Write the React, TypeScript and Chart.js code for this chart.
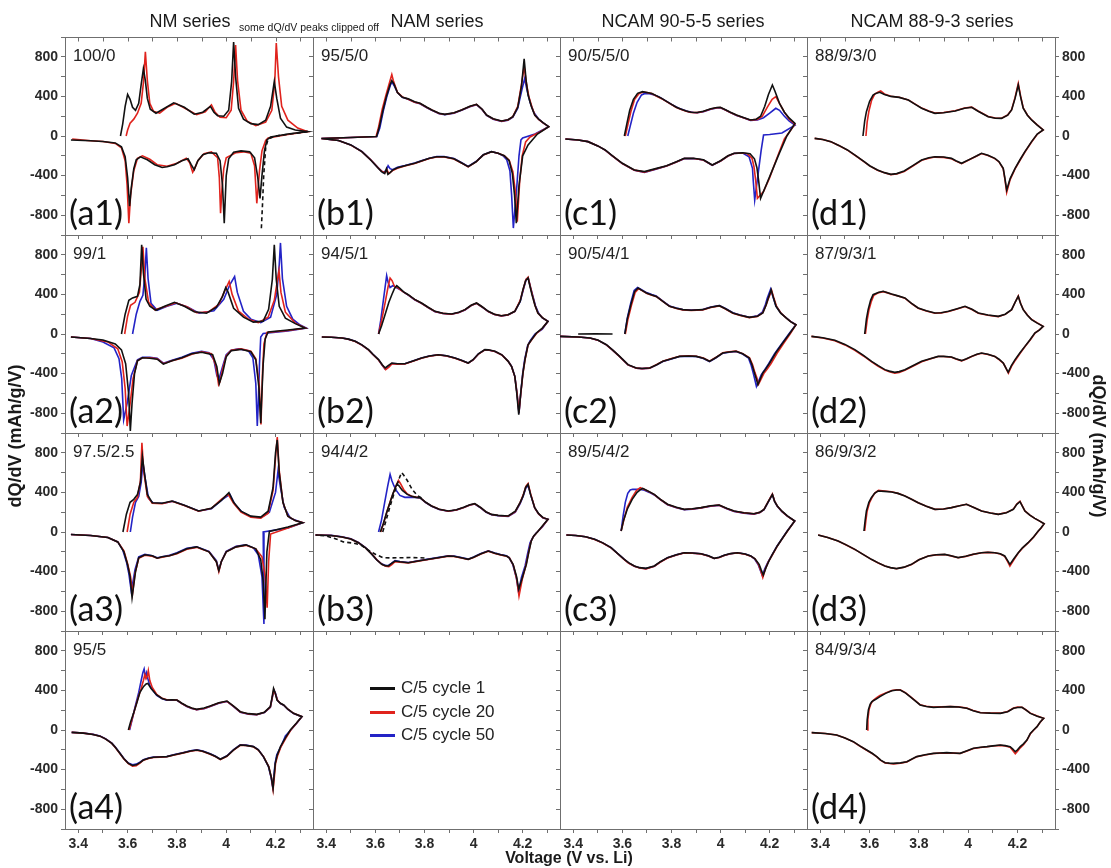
import React, { useEffect, useRef } from 'react';
import { Chart, registerables } from 'chart.js';

Chart.register(...registerables);

type Pt = [number, number];

// ---------- column / sample labels ----------
const columnTitles = ['NM series', 'NAM series', 'NCAM 90-5-5 series', 'NCAM 88-9-3 series'];
const clipNote = 'some dQ/dV peaks clipped off';
const legendLabels = ['C/5 cycle 1', 'C/5 cycle 20', 'C/5 cycle 50'];
const xTickLabels = [3.4, 3.6, 3.8, 4, 4.2];
const yTickLabels = [800, 400, 0, -400, -800];

// ---------- data: [voltage, dQ/dV] ----------
const a1Cyc1: Pt[] = [[3.571,0],[3.58,120],[3.59,300],[3.6,420],[3.61,370],[3.62,290],[3.632,260],[3.645,330],[3.655,520],[3.664,680],[3.672,560],[3.68,380],[3.692,270],[3.715,230],[3.75,280],[3.787,335],[3.83,290],[3.87,220],[3.905,240],[3.925,280],[3.936,300],[3.95,240],[3.965,205],[3.99,200],[4.01,260],[4.022,550],[4.03,950],[4.038,600],[4.05,280],[4.07,170],[4.1,125],[4.13,115],[4.16,160],[4.18,300],[4.195,550],[4.205,380],[4.22,180],[4.245,90],[4.28,60],[4.33,44],
[4.25,20],[4.18,-10],[4.165,-40],[4.155,-150],[4.145,-400],[4.137,-630],[4.128,-420],[4.115,-220],[4.095,-160],[4.06,-150],[4.03,-165],[4.01,-230],[4.0,-400],[3.992,-880],[3.985,-500],[3.975,-250],[3.96,-175],[3.93,-170],[3.905,-190],[3.885,-250],[3.87,-340],[3.858,-290],[3.845,-230],[3.82,-250],[3.79,-290],[3.76,-310],[3.74,-318],[3.71,-290],[3.68,-240],[3.652,-210],[3.635,-240],[3.625,-330],[3.615,-520],[3.608,-710],[3.6,-420],[3.59,-210],[3.575,-110],[3.55,-70],[3.5,-55],[3.45,-48],[3.37,-40]];
const a1Cyc1Dash: Pt[] = [[4.33,44],[4.2,0],[4.17,-30],[4.16,-120],[4.152,-400],[4.147,-700],[4.142,-960]];
const a1Cyc20: Pt[] = [[3.594,0],[3.6,60],[3.61,130],[3.625,170],[3.64,230],[3.655,330],[3.665,560],[3.672,850],[3.68,560],[3.69,330],[3.705,250],[3.73,230],[3.76,290],[3.795,330],[3.84,270],[3.88,215],[3.915,245],[3.94,315],[3.955,240],[3.975,190],[4.0,185],[4.02,260],[4.03,550],[4.038,920],[4.046,560],[4.06,260],[4.085,150],[4.12,105],[4.16,140],[4.185,260],[4.197,550],[4.203,940],[4.212,600],[4.225,300],[4.25,160],[4.29,80],[4.33,44],
[4.25,15],[4.17,-20],[4.16,-45],[4.145,-150],[4.135,-350],[4.124,-680],[4.115,-300],[4.1,-175],[4.07,-160],[4.04,-168],[4.0,-220],[3.99,-330],[3.982,-560],[3.977,-780],[3.972,-420],[3.965,-220],[3.94,-160],[3.91,-180],[3.885,-250],[3.872,-330],[3.864,-365],[3.852,-270],[3.838,-225],[3.8,-275],[3.76,-305],[3.72,-290],[3.69,-235],[3.66,-200],[3.64,-225],[3.625,-350],[3.612,-600],[3.605,-880],[3.598,-500],[3.59,-250],[3.575,-120],[3.55,-75],[3.5,-55],[3.45,-48],[3.375,-30]];

const a2Cyc1: Pt[] = [[3.575,0],[3.59,200],[3.605,340],[3.62,365],[3.64,380],[3.65,500],[3.657,900],[3.664,620],[3.675,350],[3.69,280],[3.715,240],[3.75,280],[3.79,320],[3.83,280],[3.87,225],[3.92,210],[3.96,270],[3.985,380],[3.998,470],[4.008,420],[4.03,260],[4.07,170],[4.11,120],[4.15,130],[4.172,250],[4.187,550],[4.195,900],[4.203,550],[4.215,280],[4.24,160],[4.28,105],[4.32,60],
[4.25,40],[4.17,20],[4.158,-50],[4.15,-300],[4.143,-700],[4.14,-900],[4.133,-550],[4.12,-260],[4.1,-180],[4.06,-155],[4.02,-170],[4.0,-230],[3.985,-400],[3.972,-500],[3.962,-330],[3.945,-210],[3.9,-185],[3.86,-200],[3.82,-240],[3.78,-270],[3.745,-305],[3.72,-255],[3.69,-245],[3.66,-240],[3.64,-270],[3.628,-400],[3.618,-700],[3.611,-980],[3.604,-600],[3.592,-300],[3.575,-160],[3.55,-100],[3.5,-60],[3.45,-45],[3.37,-30]];
const a2Cyc20: Pt[] = [[3.588,0],[3.6,180],[3.612,290],[3.63,320],[3.648,420],[3.657,700],[3.662,880],[3.67,560],[3.685,320],[3.71,245],[3.75,275],[3.795,315],[3.84,275],[3.88,215],[3.93,225],[3.97,300],[3.995,440],[4.012,530],[4.024,400],[4.05,230],[4.09,150],[4.13,115],[4.17,170],[4.195,340],[4.208,550],[4.214,640],[4.222,420],[4.24,220],[4.28,110],[4.322,60],
[4.25,35],[4.165,15],[4.153,-100],[4.147,-400],[4.141,-915],[4.134,-520],[4.12,-250],[4.1,-175],[4.06,-150],[4.02,-165],[4.0,-220],[3.985,-360],[3.975,-480],[3.969,-510],[3.958,-320],[3.94,-200],[3.9,-180],[3.86,-205],[3.82,-245],[3.78,-270],[3.745,-300],[3.72,-250],[3.69,-240],[3.66,-240],[3.64,-270],[3.622,-450],[3.608,-750],[3.598,-930],[3.59,-550],[3.578,-280],[3.56,-150],[3.52,-80],[3.45,-45],[3.37,-30]];
const a2Cyc50: Pt[] = [[3.62,0],[3.635,200],[3.65,330],[3.662,390],[3.67,600],[3.676,870],[3.683,560],[3.695,310],[3.72,240],[3.76,280],[3.8,310],[3.845,270],[3.89,210],[3.95,235],[3.99,350],[4.015,500],[4.034,580],[4.045,420],[4.07,230],[4.1,150],[4.14,115],[4.18,170],[4.205,400],[4.215,700],[4.22,920],[4.228,560],[4.245,280],[4.27,150],[4.3,90],[4.325,60],
[4.25,30],[4.15,5],[4.14,-30],[4.135,-300],[4.13,-700],[4.126,-930],[4.12,-500],[4.108,-240],[4.09,-170],[4.05,-150],[4.02,-165],[4.0,-210],[3.985,-330],[3.97,-460],[3.962,-420],[3.95,-260],[3.93,-190],[3.9,-175],[3.86,-195],[3.82,-235],[3.78,-265],[3.745,-295],[3.72,-245],[3.69,-235],[3.66,-235],[3.64,-260],[3.615,-420],[3.598,-700],[3.584,-865],[3.576,-450],[3.565,-250],[3.545,-140],[3.5,-80],[3.45,-45],[3.37,-30]];

const a3Cyc1: Pt[] = [[3.581,0],[3.595,180],[3.61,300],[3.625,330],[3.64,380],[3.652,500],[3.66,760],[3.668,600],[3.68,380],[3.7,296],[3.74,290],[3.78,313],[3.83,270],[3.888,212],[3.94,240],[3.98,320],[4.011,397],[4.03,300],[4.06,210],[4.1,160],[4.14,150],[4.17,210],[4.19,450],[4.2,800],[4.207,930],[4.215,600],[4.23,300],[4.25,160],[4.28,115],[4.31,94],
[4.25,50],[4.175,5],[4.165,-200],[4.16,-600],[4.157,-880],[4.15,-500],[4.14,-280],[4.12,-170],[4.08,-130],[4.04,-150],[4.0,-200],[3.98,-300],[3.97,-390],[3.96,-300],[3.93,-200],[3.88,-150],[3.84,-170],[3.8,-215],[3.77,-240],[3.74,-250],[3.72,-265],[3.7,-240],[3.67,-230],[3.645,-260],[3.632,-400],[3.618,-663],[3.61,-450],[3.6,-330],[3.585,-200],[3.56,-100],[3.52,-55],[3.45,-35],[3.37,-25]];
const a3Cyc20: Pt[] = [[3.598,0],[3.61,180],[3.625,300],[3.64,350],[3.652,520],[3.658,900],[3.665,620],[3.68,360],[3.7,290],[3.74,285],[3.78,310],[3.83,268],[3.888,210],[3.94,240],[3.98,330],[4.008,380],[4.03,290],[4.06,200],[4.1,150],[4.14,140],[4.17,190],[4.19,420],[4.2,750],[4.207,960],[4.215,620],[4.23,300],[4.25,160],[4.28,115],[4.31,94],
[4.25,40],[4.18,-20],[4.172,-300],[4.166,-765],[4.158,-450],[4.145,-250],[4.12,-170],[4.08,-135],[4.04,-150],[4.0,-200],[3.98,-300],[3.97,-400],[3.96,-300],[3.93,-200],[3.88,-155],[3.84,-175],[3.8,-220],[3.77,-240],[3.74,-255],[3.72,-265],[3.7,-245],[3.67,-235],[3.645,-265],[3.63,-420],[3.62,-620],[3.612,-450],[3.6,-320],[3.585,-190],[3.56,-100],[3.52,-55],[3.45,-35],[3.37,-25]];
const a3Cyc50: Pt[] = [[3.611,0],[3.62,150],[3.632,300],[3.645,360],[3.655,500],[3.662,700],[3.67,560],[3.685,340],[3.705,290],[3.745,290],[3.785,310],[3.835,265],[3.888,212],[3.94,235],[3.985,330],[4.015,380],[4.035,280],[4.065,200],[4.1,155],[4.14,145],[4.175,200],[4.2,400],[4.21,616],[4.22,450],[4.235,250],[4.26,140],[4.29,110],[4.31,94],
[4.25,40],[4.15,0],[4.153,-300],[4.153,-930],[4.145,-450],[4.13,-230],[4.11,-160],[4.08,-130],[4.04,-145],[4.0,-195],[3.98,-300],[3.97,-385],[3.96,-290],[3.93,-195],[3.88,-150],[3.84,-165],[3.8,-210],[3.77,-235],[3.74,-250],[3.72,-260],[3.7,-240],[3.67,-225],[3.645,-250],[3.63,-380],[3.615,-600],[3.605,-420],[3.595,-300],[3.58,-180],[3.56,-100],[3.52,-55],[3.45,-35],[3.37,-25]];

const a4Cyc1: Pt[] = [[3.603,0],[3.612,80],[3.624,168],[3.638,280],[3.65,380],[3.665,440],[3.675,465],[3.682,471],[3.695,420],[3.718,354],[3.74,318],[3.759,303],[3.78,305],[3.8,303],[3.82,270],[3.84,242],[3.86,222],[3.88,209],[3.91,222],[3.935,242],[3.97,275],[4.003,293],[4.03,240],[4.057,185],[4.09,165],[4.124,158],[4.155,180],[4.179,236],[4.186,330],[4.192,421],[4.198,380],[4.206,303],[4.22,270],[4.233,253],[4.25,210],[4.273,168],[4.307,135],
[4.285,70],[4.26,0],[4.24,-80],[4.22,-168],[4.206,-260],[4.199,-337],[4.194,-470],[4.19,-589],[4.183,-480],[4.172,-370],[4.151,-269],[4.13,-200],[4.11,-168],[4.08,-155],[4.057,-152],[4.03,-200],[4.003,-263],[3.976,-296],[3.955,-265],[3.935,-242],[3.905,-215],[3.881,-202],[3.855,-212],[3.827,-229],[3.79,-250],[3.759,-269],[3.73,-272],[3.705,-276],[3.685,-285],[3.664,-303],[3.65,-330],[3.635,-352],[3.62,-358],[3.603,-337],[3.585,-290],[3.57,-240],[3.55,-175],[3.536,-135],[3.51,-90],[3.488,-62],[3.46,-45],[3.42,-32],[3.373,-24]];
const a4Cyc20: Pt[] = [[3.606,0],[3.616,90],[3.628,200],[3.642,320],[3.655,420],[3.664,500],[3.67,560],[3.675,520],[3.68,545],[3.684,600],[3.69,500],[3.7,430],[3.718,360],[3.74,320],[3.759,305],[3.78,306],[3.8,302],[3.82,268],[3.84,240],[3.86,220],[3.88,206],[3.91,218],[3.935,240],[3.97,272],[4.003,290],[4.03,238],[4.057,182],[4.09,162],[4.124,155],[4.155,178],[4.179,232],[4.186,320],[4.193,405],[4.2,360],[4.208,300],[4.22,268],[4.233,252],[4.25,210],[4.273,168],[4.307,135],
[4.285,68],[4.262,0],[4.242,-82],[4.222,-170],[4.208,-262],[4.2,-340],[4.195,-480],[4.19,-600],[4.184,-490],[4.173,-372],[4.152,-271],[4.13,-202],[4.11,-170],[4.08,-157],[4.057,-154],[4.03,-202],[4.003,-265],[3.976,-298],[3.955,-267],[3.935,-244],[3.905,-217],[3.881,-204],[3.855,-214],[3.827,-231],[3.79,-252],[3.759,-271],[3.73,-274],[3.705,-278],[3.685,-287],[3.664,-305],[3.65,-335],[3.635,-362],[3.62,-365],[3.603,-340],[3.585,-292],[3.57,-242],[3.55,-176],[3.536,-136],[3.51,-90],[3.488,-62],[3.46,-45],[3.42,-32],[3.373,-24]];
const a4Cyc50: Pt[] = [[3.608,0],[3.618,100],[3.63,230],[3.645,380],[3.655,500],[3.662,580],[3.667,616],[3.672,540],[3.677,580],[3.682,520],[3.69,450],[3.705,390],[3.718,350],[3.74,315],[3.759,300],[3.78,302],[3.8,300],[3.82,266],[3.84,238],[3.86,218],[3.88,205],[3.91,216],[3.935,238],[3.97,270],[4.003,288],[4.03,236],[4.057,180],[4.09,160],[4.124,154],[4.155,176],[4.179,230],[4.187,330],[4.194,400],[4.2,370],[4.208,300],[4.22,266],[4.233,250],[4.25,208],[4.273,166],[4.307,135],
[4.285,66],[4.262,0],[4.24,-60],[4.225,-150],[4.205,-250],[4.198,-340],[4.193,-470],[4.188,-570],[4.182,-480],[4.171,-368],[4.15,-267],[4.13,-198],[4.11,-166],[4.08,-153],[4.057,-150],[4.03,-198],[4.003,-261],[3.976,-294],[3.955,-263],[3.935,-240],[3.905,-213],[3.881,-200],[3.855,-210],[3.827,-227],[3.79,-248],[3.759,-267],[3.73,-270],[3.705,-274],[3.685,-283],[3.664,-300],[3.65,-325],[3.635,-345],[3.62,-352],[3.603,-334],[3.585,-288],[3.57,-238],[3.55,-173],[3.536,-133],[3.51,-88],[3.488,-60],[3.46,-44],[3.42,-31],[3.373,-24]];

const b1Cyc1: Pt[] = [[3.38,-25],[3.5,-15],[3.605,-5],[3.615,80],[3.63,250],[3.645,400],[3.66,520],[3.667,560],[3.675,530],[3.69,440],[3.71,390],[3.734,375],[3.76,345],[3.782,330],[3.81,290],[3.83,263],[3.86,230],[3.883,219],[3.92,235],[3.951,263],[3.985,300],[4.012,320],[4.035,270],[4.053,212],[4.08,175],[4.114,152],[4.14,165],[4.16,195],[4.18,290],[4.195,500],[4.206,780],[4.214,560],[4.222,414],[4.235,300],[4.249,212],[4.265,170],[4.283,135],[4.306,94],
[4.26,20],[4.222,-91],[4.2,-200],[4.185,-500],[4.174,-880],[4.167,-600],[4.158,-380],[4.145,-250],[4.125,-200],[4.1,-175],[4.073,-158],[4.04,-190],[4.01,-260],[3.978,-310],[3.95,-270],[3.92,-230],[3.88,-210],[3.85,-209],[3.82,-225],[3.79,-250],[3.76,-275],[3.72,-300],[3.69,-320],[3.67,-345],[3.66,-370],[3.651,-387],[3.645,-330],[3.638,-380],[3.625,-360],[3.61,-320],[3.6,-293],[3.58,-240],[3.545,-158],[3.5,-90],[3.45,-45],[3.38,-25]];
const b1Cyc20: Pt[] = [[3.38,-25],[3.5,-15],[3.603,-5],[3.613,90],[3.628,270],[3.645,430],[3.66,560],[3.667,620],[3.673,560],[3.69,440],[3.71,395],[3.734,372],[3.76,342],[3.782,328],[3.81,288],[3.83,262],[3.86,228],[3.883,217],[3.92,232],[3.951,262],[3.985,298],[4.012,318],[4.035,268],[4.053,210],[4.08,172],[4.114,150],[4.14,162],[4.16,195],[4.18,300],[4.195,520],[4.206,700],[4.216,520],[4.225,400],[4.238,290],[4.25,210],[4.265,168],[4.283,133],[4.306,94],
[4.27,40],[4.23,-10],[4.212,-60],[4.198,-200],[4.188,-450],[4.178,-865],[4.17,-560],[4.16,-360],[4.145,-245],[4.125,-200],[4.1,-175],[4.073,-160],[4.04,-192],[4.01,-262],[3.978,-312],[3.95,-272],[3.92,-232],[3.88,-212],[3.85,-212],[3.82,-228],[3.79,-252],[3.76,-278],[3.72,-302],[3.69,-325],[3.67,-350],[3.655,-380],[3.648,-345],[3.64,-370],[3.625,-355],[3.61,-318],[3.6,-290],[3.58,-238],[3.545,-158],[3.5,-92],[3.45,-45],[3.38,-25]];
const b1Cyc50: Pt[] = [[3.38,-25],[3.5,-15],[3.606,-5],[3.618,80],[3.632,250],[3.648,410],[3.662,520],[3.669,540],[3.676,510],[3.69,440],[3.71,390],[3.734,372],[3.76,340],[3.782,326],[3.81,286],[3.83,260],[3.86,226],[3.883,216],[3.92,230],[3.951,260],[3.985,296],[4.012,316],[4.035,266],[4.053,208],[4.08,170],[4.114,148],[4.14,160],[4.16,190],[4.18,280],[4.198,480],[4.208,580],[4.218,460],[4.23,340],[4.245,240],[4.265,170],[4.283,133],[4.306,94],
[4.25,20],[4.2,-20],[4.193,-40],[4.185,-200],[4.175,-550],[4.162,-930],[4.155,-600],[4.148,-350],[4.135,-240],[4.12,-200],[4.1,-175],[4.073,-158],[4.04,-190],[4.01,-258],[3.978,-308],[3.95,-268],[3.92,-228],[3.88,-208],[3.85,-208],[3.82,-225],[3.79,-248],[3.76,-272],[3.72,-298],[3.69,-315],[3.67,-340],[3.66,-330],[3.652,-300],[3.645,-345],[3.632,-370],[3.615,-330],[3.6,-292],[3.58,-238],[3.545,-156],[3.5,-90],[3.45,-45],[3.38,-25]];

const b2Cyc1: Pt[] = [[3.613,0],[3.625,80],[3.64,200],[3.655,320],[3.667,397],[3.678,460],[3.687,488],[3.7,460],[3.715,425],[3.734,397],[3.76,350],[3.788,313],[3.815,270],[3.843,229],[3.875,210],[3.91,202],[3.94,220],[3.965,246],[3.99,290],[4.012,313],[4.035,275],[4.06,229],[4.085,200],[4.113,185],[4.14,195],[4.168,229],[4.19,330],[4.201,448],[4.212,540],[4.222,566],[4.23,480],[4.238,397],[4.25,290],[4.262,212],[4.28,165],[4.303,128],
[4.28,60],[4.256,10],[4.235,-60],[4.222,-108],[4.21,-250],[4.201,-394],[4.192,-600],[4.184,-815],[4.176,-600],[4.168,-428],[4.155,-330],[4.141,-276],[4.115,-210],[4.087,-175],[4.06,-160],[4.046,-158],[4.02,-200],[3.998,-260],[3.978,-293],[3.95,-265],[3.924,-242],[3.89,-220],[3.856,-209],[3.82,-222],[3.788,-242],[3.75,-275],[3.72,-300],[3.69,-300],[3.667,-293],[3.652,-320],[3.64,-343],[3.628,-310],[3.613,-259],[3.59,-205],[3.572,-158],[3.545,-110],[3.518,-74],[3.49,-52],[3.464,-40],[3.42,-33],[3.382,-30]];
const b2Cyc20: Pt[] = [[3.613,0],[3.625,130],[3.64,320],[3.652,480],[3.66,566],[3.668,540],[3.678,480],[3.69,470],[3.705,440],[3.72,415],[3.734,395],[3.76,348],[3.788,311],[3.815,268],[3.843,227],[3.875,208],[3.91,200],[3.94,218],[3.965,244],[3.99,288],[4.012,311],[4.035,273],[4.06,227],[4.085,198],[4.113,183],[4.14,193],[4.168,229],[4.19,340],[4.203,460],[4.213,550],[4.222,575],[4.23,490],[4.24,390],[4.25,290],[4.262,212],[4.28,165],[4.303,128],
[4.28,55],[4.256,5],[4.236,-60],[4.222,-110],[4.21,-255],[4.201,-400],[4.192,-610],[4.185,-790],[4.177,-600],[4.168,-430],[4.155,-330],[4.141,-276],[4.115,-212],[4.087,-177],[4.06,-162],[4.046,-160],[4.02,-202],[3.998,-262],[3.978,-295],[3.95,-267],[3.924,-244],[3.89,-222],[3.856,-211],[3.82,-224],[3.788,-244],[3.75,-277],[3.72,-302],[3.69,-305],[3.668,-300],[3.655,-335],[3.642,-360],[3.63,-320],[3.613,-262],[3.59,-207],[3.572,-160],[3.545,-112],[3.518,-75],[3.49,-53],[3.464,-40],[3.42,-33],[3.382,-30]];
const b2Cyc50: Pt[] = [[3.613,0],[3.622,140],[3.632,330],[3.64,480],[3.646,589],[3.652,520],[3.66,470],[3.672,490],[3.685,470],[3.7,450],[3.72,415],[3.734,393],[3.76,346],[3.788,309],[3.815,266],[3.843,226],[3.875,207],[3.91,199],[3.94,217],[3.965,243],[3.99,287],[4.012,310],[4.035,272],[4.06,226],[4.085,197],[4.113,182],[4.14,192],[4.168,228],[4.19,330],[4.205,470],[4.215,555],[4.223,560],[4.232,470],[4.242,380],[4.252,285],[4.265,210],[4.28,162],[4.303,128],
[4.28,50],[4.25,0],[4.23,-70],[4.22,-120],[4.208,-260],[4.2,-400],[4.192,-600],[4.185,-800],[4.177,-600],[4.168,-428],[4.155,-328],[4.141,-275],[4.115,-210],[4.087,-176],[4.06,-161],[4.046,-159],[4.02,-201],[3.998,-261],[3.978,-294],[3.95,-266],[3.924,-243],[3.89,-221],[3.856,-210],[3.82,-223],[3.788,-243],[3.75,-276],[3.72,-301],[3.69,-302],[3.668,-298],[3.653,-330],[3.64,-355],[3.628,-315],[3.613,-260],[3.59,-206],[3.572,-159],[3.545,-111],[3.518,-74],[3.49,-52],[3.464,-40],[3.42,-33],[3.382,-30]];

const b3Cyc1: Pt[] = [[3.62,0],[3.632,80],[3.645,190],[3.66,300],[3.672,390],[3.68,440],[3.687,481],[3.695,470],[3.71,420],[3.73,380],[3.748,360],[3.765,350],[3.782,347],[3.805,300],[3.829,263],[3.86,230],[3.897,212],[3.93,225],[3.96,250],[3.985,275],[4.005,286],[4.03,245],[4.05,205],[4.073,178],[4.1,168],[4.141,162],[4.17,210],[4.19,300],[4.201,360],[4.212,450],[4.222,481],[4.232,380],[4.249,246],[4.265,185],[4.283,145],[4.303,128],
[4.28,60],[4.26,0],[4.245,-40],[4.235,-91],[4.225,-200],[4.215,-327],[4.2,-450],[4.184,-579],[4.175,-450],[4.161,-327],[4.145,-260],[4.134,-242],[4.11,-230],[4.087,-215],[4.06,-192],[4.03,-220],[4.0,-255],[3.978,-276],[3.95,-260],[3.92,-245],[3.897,-242],[3.86,-258],[3.816,-276],[3.78,-290],[3.734,-310],[3.7,-300],[3.68,-293],[3.665,-320],[3.653,-343],[3.64,-340],[3.626,-327],[3.605,-280],[3.586,-226],[3.56,-160],[3.531,-108],[3.5,-70],[3.464,-50],[3.42,-35],[3.356,-30]];
const b3Cyc1DashA: Pt[] = [[3.63,0],[3.645,130],[3.66,260],[3.675,380],[3.69,490],[3.7,560],[3.707,600],[3.715,575],[3.73,520],[3.75,430],[3.77,370],[3.79,340]];
const b3Cyc1DashB: Pt[] = [[3.8,-262],[3.75,-258],[3.7,-260],[3.66,-262],[3.63,-258],[3.6,-225],[3.57,-180],[3.54,-130],[3.51,-112],[3.47,-100],[3.44,-70],[3.4,-40],[3.36,-32]];
const b3Cyc20: Pt[] = [[3.622,0],[3.635,100],[3.65,230],[3.665,340],[3.68,440],[3.688,490],[3.694,522],[3.702,490],[3.715,430],[3.73,385],[3.748,362],[3.765,352],[3.782,347],[3.805,300],[3.829,262],[3.86,229],[3.897,210],[3.93,223],[3.96,248],[3.985,273],[4.005,284],[4.03,243],[4.05,203],[4.073,176],[4.1,166],[4.141,160],[4.17,205],[4.19,300],[4.203,380],[4.213,460],[4.222,490],[4.232,390],[4.249,244],[4.265,183],[4.283,143],[4.303,128],
[4.28,55],[4.258,-5],[4.244,-45],[4.234,-95],[4.224,-210],[4.213,-340],[4.198,-480],[4.185,-646],[4.176,-480],[4.162,-335],[4.146,-262],[4.134,-244],[4.11,-232],[4.087,-217],[4.06,-194],[4.03,-222],[4.0,-258],[3.978,-278],[3.95,-262],[3.92,-247],[3.897,-244],[3.86,-260],[3.816,-278],[3.78,-292],[3.734,-312],[3.7,-305],[3.68,-300],[3.667,-330],[3.655,-350],[3.642,-345],[3.628,-330],[3.607,-283],[3.588,-228],[3.56,-160],[3.531,-108],[3.5,-70],[3.464,-50],[3.42,-35],[3.356,-30]];
const b3Cyc50: Pt[] = [[3.613,0],[3.625,120],[3.638,300],[3.65,460],[3.66,582],[3.667,520],[3.675,470],[3.685,420],[3.7,370],[3.72,350],[3.748,352],[3.765,350],[3.782,345],[3.805,298],[3.829,260],[3.86,228],[3.897,209],[3.93,222],[3.96,247],[3.985,272],[4.005,283],[4.03,242],[4.05,202],[4.073,175],[4.1,165],[4.141,158],[4.17,200],[4.19,290],[4.203,370],[4.213,445],[4.222,470],[4.232,380],[4.249,243],[4.265,182],[4.283,142],[4.303,128],
[4.28,50],[4.255,-10],[4.24,-60],[4.23,-110],[4.22,-220],[4.21,-340],[4.195,-460],[4.183,-600],[4.174,-460],[4.16,-330],[4.145,-258],[4.134,-240],[4.11,-228],[4.087,-213],[4.06,-190],[4.03,-218],[4.0,-253],[3.978,-274],[3.95,-258],[3.92,-243],[3.897,-240],[3.86,-256],[3.816,-274],[3.78,-288],[3.734,-308],[3.7,-298],[3.68,-290],[3.665,-318],[3.652,-340],[3.64,-335],[3.625,-322],[3.604,-276],[3.585,-222],[3.56,-158],[3.531,-106],[3.5,-68],[3.464,-48],[3.42,-34],[3.356,-30]];

const c1Cyc1: Pt[] = [[3.608,0],[3.618,120],[3.63,260],[3.645,370],[3.662,431],[3.682,448],[3.7,440],[3.72,430],[3.74,405],[3.76,380],[3.78,350],[3.8,320],[3.82,290],[3.84,270],[3.86,252],[3.88,240],[3.905,238],[3.93,250],[3.96,275],[3.985,288],[3.999,290],[4.02,265],[4.04,240],[4.065,212],[4.09,190],[4.122,162],[4.145,170],[4.163,200],[4.18,300],[4.195,420],[4.211,515],[4.222,450],[4.24,330],[4.26,240],[4.28,180],[4.303,128],
[4.27,0],[4.24,-170],[4.21,-350],[4.185,-500],[4.163,-630],[4.155,-450],[4.148,-320],[4.138,-230],[4.12,-180],[4.09,-170],[4.055,-175],[4.03,-200],[4.0,-250],[3.966,-293],[3.93,-240],[3.89,-225],[3.852,-226],[3.82,-260],[3.78,-300],[3.74,-327],[3.69,-360],[3.649,-343],[3.6,-276],[3.56,-200],[3.53,-141],[3.5,-100],[3.46,-57],[3.42,-40],[3.368,-30]];
const c1Cyc20: Pt[] = [[3.612,0],[3.622,110],[3.635,250],[3.65,370],[3.668,430],[3.686,445],[3.7,440],[3.72,428],[3.74,402],[3.76,377],[3.78,347],[3.8,318],[3.82,288],[3.84,268],[3.86,250],[3.88,238],[3.905,236],[3.93,248],[3.96,273],[3.985,286],[3.999,288],[4.02,263],[4.04,238],[4.065,210],[4.09,188],[4.122,160],[4.15,168],[4.17,200],[4.19,290],[4.21,370],[4.225,397],[4.24,330],[4.26,240],[4.28,170],[4.303,120],
[4.26,-30],[4.23,-220],[4.2,-420],[4.175,-560],[4.15,-630],[4.143,-450],[4.136,-310],[4.128,-225],[4.11,-180],[4.09,-172],[4.055,-177],[4.03,-202],[4.0,-252],[3.966,-295],[3.93,-242],[3.89,-227],[3.852,-228],[3.82,-262],[3.78,-302],[3.74,-330],[3.69,-365],[3.649,-345],[3.6,-278],[3.56,-202],[3.53,-142],[3.5,-100],[3.46,-57],[3.42,-40],[3.368,-30]];
const c1Cyc50: Pt[] = [[3.622,0],[3.632,100],[3.645,230],[3.66,340],[3.678,415],[3.692,430],[3.71,428],[3.73,415],[3.75,395],[3.77,365],[3.79,335],[3.81,305],[3.83,280],[3.85,262],[3.87,246],[3.89,238],[3.905,235],[3.93,246],[3.96,271],[3.985,284],[3.999,286],[4.02,262],[4.04,236],[4.065,208],[4.09,186],[4.122,158],[4.15,162],[4.175,185],[4.2,230],[4.225,280],[4.24,260],[4.26,200],[4.28,150],[4.303,110],
[4.25,30],[4.2,15],[4.175,10],[4.165,-150],[4.152,-400],[4.139,-646],[4.133,-450],[4.13,-327],[4.116,-209],[4.09,-172],[4.055,-177],[4.03,-203],[4.0,-253],[3.966,-296],[3.93,-243],[3.89,-228],[3.852,-229],[3.82,-263],[3.78,-303],[3.74,-332],[3.69,-368],[3.649,-347],[3.6,-279],[3.56,-203],[3.53,-143],[3.5,-100],[3.46,-57],[3.42,-40],[3.368,-30]];

const c2Cyc1Stub: Pt[] = [[3.42,0],[3.49,1],[3.56,0]];
const c2Cyc1: Pt[] = [[3.61,0],[3.62,150],[3.635,300],[3.65,431],[3.664,465],[3.68,440],[3.698,414],[3.72,395],[3.738,380],[3.765,330],[3.792,280],[3.82,260],[3.846,246],[3.88,240],[3.927,246],[3.96,270],[3.995,286],[4.02,255],[4.05,212],[4.08,190],[4.117,168],[4.15,180],[4.172,212],[4.185,290],[4.192,347],[4.206,448],[4.216,360],[4.226,280],[4.245,210],[4.267,162],[4.285,125],[4.307,94],
[4.28,0],[4.253,-91],[4.225,-190],[4.2,-293],[4.185,-350],[4.172,-394],[4.152,-512],[4.145,-450],[4.138,-394],[4.128,-310],[4.117,-242],[4.09,-200],[4.063,-175],[4.035,-182],[4.009,-192],[3.98,-240],[3.955,-276],[3.93,-245],[3.901,-226],[3.87,-222],[3.833,-226],[3.8,-250],[3.765,-276],[3.74,-310],[3.711,-343],[3.68,-348],[3.657,-343],[3.623,-310],[3.589,-226],[3.56,-160],[3.535,-108],[3.5,-60],[3.468,-40],[3.42,-30],[3.346,-24]];
const c2Cyc20: Pt[] = [[3.612,0],[3.622,140],[3.637,290],[3.652,420],[3.666,458],[3.682,436],[3.7,410],[3.72,392],[3.74,376],[3.766,328],[3.792,279],[3.82,258],[3.846,244],[3.88,238],[3.927,244],[3.96,268],[3.995,284],[4.02,253],[4.05,210],[4.08,188],[4.117,166],[4.15,178],[4.172,214],[4.186,295],[4.195,360],[4.208,440],[4.218,355],[4.228,278],[4.247,208],[4.268,160],[4.287,123],[4.307,94],
[4.283,0],[4.257,-95],[4.23,-195],[4.205,-300],[4.19,-355],[4.176,-400],[4.155,-505],[4.148,-445],[4.14,-390],[4.13,-308],[4.118,-240],[4.09,-198],[4.063,-173],[4.035,-180],[4.009,-190],[3.98,-238],[3.955,-274],[3.93,-243],[3.901,-224],[3.87,-220],[3.833,-224],[3.8,-248],[3.765,-274],[3.74,-308],[3.711,-345],[3.68,-350],[3.657,-345],[3.623,-312],[3.589,-228],[3.56,-162],[3.535,-110],[3.5,-62],[3.468,-40],[3.42,-30],[3.346,-24]];
const c2Cyc50: Pt[] = [[3.61,0],[3.62,160],[3.634,310],[3.648,440],[3.662,470],[3.68,445],[3.698,418],[3.72,398],[3.738,383],[3.765,333],[3.792,283],[3.82,262],[3.846,248],[3.88,242],[3.927,248],[3.96,272],[3.995,288],[4.02,257],[4.05,214],[4.08,192],[4.117,170],[4.15,184],[4.17,220],[4.183,300],[4.19,360],[4.204,455],[4.214,370],[4.225,285],[4.245,212],[4.267,164],[4.285,127],[4.307,94],
[4.278,0],[4.25,-95],[4.22,-200],[4.196,-300],[4.18,-360],[4.166,-410],[4.146,-529],[4.139,-455],[4.133,-395],[4.124,-312],[4.114,-244],[4.09,-202],[4.063,-177],[4.035,-184],[4.009,-194],[3.98,-242],[3.955,-278],[3.93,-247],[3.901,-228],[3.87,-224],[3.833,-228],[3.8,-252],[3.765,-278],[3.74,-312],[3.711,-345],[3.68,-350],[3.657,-345],[3.623,-312],[3.589,-228],[3.56,-162],[3.535,-110],[3.5,-62],[3.468,-40],[3.42,-30],[3.346,-24]];

const c3Cyc1: Pt[] = [[3.595,10],[3.605,120],[3.62,230],[3.64,330],[3.66,400],[3.675,430],[3.683,441],[3.7,420],[3.73,380],[3.755,330],[3.784,280],[3.82,250],[3.852,229],[3.885,235],[3.92,246],[3.96,265],[3.994,273],[4.025,240],[4.055,212],[4.095,195],[4.136,185],[4.16,200],[4.177,229],[4.195,310],[4.211,380],[4.22,310],[4.231,263],[4.25,210],[4.272,162],[4.302,111],
[4.272,10],[4.25,-70],[4.231,-141],[4.21,-230],[4.197,-293],[4.185,-360],[4.174,-434],[4.165,-380],[4.157,-327],[4.14,-270],[4.123,-242],[4.1,-222],[4.069,-209],[4.04,-218],[4.015,-235],[3.995,-255],[3.974,-266],[3.95,-240],[3.92,-219],[3.885,-212],[3.852,-209],[3.82,-230],[3.784,-259],[3.755,-300],[3.73,-343],[3.696,-367],[3.67,-360],[3.649,-343],[3.625,-310],[3.608,-276],[3.58,-215],[3.554,-158],[3.52,-110],[3.487,-74],[3.45,-48],[3.41,-35],[3.372,-30]];
const c3Cyc20: Pt[] = [[3.595,10],[3.607,130],[3.62,250],[3.64,350],[3.658,420],[3.673,448],[3.69,430],[3.71,405],[3.73,378],[3.755,328],[3.784,278],[3.82,248],[3.852,227],[3.885,233],[3.92,244],[3.96,263],[3.994,271],[4.025,238],[4.055,210],[4.095,193],[4.136,183],[4.16,198],[4.177,228],[4.195,312],[4.211,383],[4.22,312],[4.231,262],[4.25,208],[4.272,160],[4.302,111],
[4.272,8],[4.25,-72],[4.231,-143],[4.21,-235],[4.195,-300],[4.183,-370],[4.172,-460],[4.163,-385],[4.155,-330],[4.14,-272],[4.123,-244],[4.1,-224],[4.069,-211],[4.04,-220],[4.015,-237],[3.995,-257],[3.974,-268],[3.95,-242],[3.92,-221],[3.885,-214],[3.852,-211],[3.82,-232],[3.784,-262],[3.755,-303],[3.73,-346],[3.696,-372],[3.67,-364],[3.649,-346],[3.625,-313],[3.608,-278],[3.58,-217],[3.554,-160],[3.52,-111],[3.487,-75],[3.45,-48],[3.41,-35],[3.372,-30]];
const c3Cyc50: Pt[] = [[3.595,10],[3.603,160],[3.612,300],[3.622,390],[3.632,425],[3.642,431],[3.66,432],[3.675,430],[3.69,422],[3.71,400],[3.73,374],[3.755,326],[3.784,276],[3.82,246],[3.852,225],[3.885,231],[3.92,242],[3.96,261],[3.994,269],[4.025,236],[4.055,208],[4.095,191],[4.136,181],[4.16,196],[4.177,226],[4.195,308],[4.211,378],[4.22,308],[4.231,260],[4.25,206],[4.272,160],[4.302,111],
[4.27,5],[4.248,-75],[4.229,-146],[4.208,-238],[4.193,-303],[4.18,-372],[4.17,-440],[4.161,-382],[4.153,-328],[4.138,-270],[4.123,-243],[4.1,-223],[4.069,-210],[4.04,-219],[4.015,-236],[3.995,-256],[3.974,-267],[3.95,-241],[3.92,-220],[3.885,-213],[3.852,-210],[3.82,-231],[3.784,-261],[3.755,-302],[3.73,-345],[3.696,-370],[3.67,-362],[3.649,-345],[3.625,-312],[3.608,-277],[3.58,-216],[3.554,-159],[3.52,-110],[3.487,-74],[3.45,-48],[3.41,-35],[3.372,-30]];

const d1Cyc1: Pt[] = [[3.573,0],[3.58,150],[3.587,246],[3.6,350],[3.614,414],[3.625,430],[3.641,441],[3.66,420],[3.686,400],[3.72,390],[3.757,363],[3.785,320],[3.811,280],[3.84,250],[3.865,229],[3.9,235],[3.947,253],[3.985,280],[4.014,290],[4.04,250],[4.081,195],[4.11,180],[4.135,178],[4.16,210],[4.176,263],[4.19,380],[4.203,515],[4.212,400],[4.223,280],[4.24,210],[4.257,162],[4.28,110],[4.304,61],
[4.28,20],[4.257,-57],[4.23,-158],[4.21,-240],[4.19,-327],[4.17,-430],[4.156,-545],[4.149,-430],[4.142,-327],[4.125,-260],[4.108,-226],[4.08,-195],[4.054,-175],[4.035,-200],[4.014,-226],[3.973,-276],[3.95,-250],[3.932,-226],[3.9,-212],[3.865,-209],[3.84,-220],[3.811,-242],[3.775,-300],[3.74,-354],[3.71,-380],[3.686,-387],[3.66,-370],[3.632,-343],[3.6,-300],[3.578,-259],[3.545,-200],[3.51,-141],[3.475,-95],[3.443,-57],[3.41,-35],[3.377,-24]];
const d1Cyc20: Pt[] = [[3.585,0],[3.59,140],[3.597,250],[3.608,360],[3.62,420],[3.635,445],[3.645,455],[3.66,425],[3.686,402],[3.72,392],[3.757,365],[3.785,322],[3.811,282],[3.84,252],[3.865,231],[3.9,237],[3.947,255],[3.985,282],[4.014,292],[4.04,252],[4.081,197],[4.11,182],[4.135,180],[4.16,212],[4.176,266],[4.19,390],[4.203,530],[4.212,410],[4.223,285],[4.24,212],[4.257,164],[4.28,112],[4.304,61],
[4.28,18],[4.257,-60],[4.23,-162],[4.21,-245],[4.19,-332],[4.17,-440],[4.156,-570],[4.149,-440],[4.142,-332],[4.125,-262],[4.108,-228],[4.08,-197],[4.054,-177],[4.035,-202],[4.014,-228],[3.973,-280],[3.95,-254],[3.932,-230],[3.9,-216],[3.865,-213],[3.84,-224],[3.811,-246],[3.775,-305],[3.74,-360],[3.71,-384],[3.686,-390],[3.66,-372],[3.632,-345],[3.6,-302],[3.578,-261],[3.545,-202],[3.51,-143],[3.475,-96],[3.443,-58],[3.41,-35],[3.377,-24]];

const d2Cyc1: Pt[] = [[3.58,0],[3.587,150],[3.594,246],[3.604,340],[3.614,397],[3.635,420],[3.655,431],[3.67,420],[3.689,404],[3.715,385],[3.743,364],[3.77,310],[3.797,263],[3.83,235],[3.865,212],[3.89,215],[3.92,229],[3.955,255],[3.987,280],[4.015,250],[4.041,212],[4.08,192],[4.122,178],[4.15,200],[4.176,246],[4.19,320],[4.203,380],[4.212,310],[4.223,246],[4.24,190],[4.257,145],[4.28,110],[4.304,77],
[4.288,40],[4.27,10],[4.25,-60],[4.23,-125],[4.21,-190],[4.19,-259],[4.175,-320],[4.162,-387],[4.152,-340],[4.142,-293],[4.125,-255],[4.108,-226],[4.08,-205],[4.054,-192],[4.035,-205],[4.014,-226],[3.993,-250],[3.973,-269],[3.95,-250],[3.932,-232],[3.9,-226],[3.878,-226],[3.845,-250],[3.811,-276],[3.775,-320],[3.743,-360],[3.72,-380],[3.702,-387],[3.68,-375],[3.662,-360],[3.635,-320],[3.608,-276],[3.575,-215],[3.54,-158],[3.5,-105],[3.459,-64],[3.41,-38],[3.364,-24]];
const d2Cyc20: Pt[] = [[3.583,0],[3.59,140],[3.597,240],[3.607,330],[3.617,392],[3.637,418],[3.655,428],[3.67,418],[3.689,402],[3.715,383],[3.743,362],[3.77,308],[3.797,261],[3.83,233],[3.865,210],[3.89,213],[3.92,227],[3.955,253],[3.987,278],[4.015,248],[4.041,210],[4.08,190],[4.122,176],[4.15,198],[4.176,244],[4.19,318],[4.203,385],[4.212,312],[4.223,248],[4.24,192],[4.257,147],[4.28,112],[4.304,77],
[4.29,45],[4.272,12],[4.252,-58],[4.232,-122],[4.212,-190],[4.192,-262],[4.176,-325],[4.163,-395],[4.153,-345],[4.143,-296],[4.125,-258],[4.108,-228],[4.08,-207],[4.054,-194],[4.035,-207],[4.014,-228],[3.993,-252],[3.973,-271],[3.95,-252],[3.932,-234],[3.9,-228],[3.878,-228],[3.845,-252],[3.811,-280],[3.775,-326],[3.743,-366],[3.72,-388],[3.702,-395],[3.68,-382],[3.662,-365],[3.635,-326],[3.608,-282],[3.575,-222],[3.54,-165],[3.5,-110],[3.459,-68],[3.41,-40],[3.364,-24]];

const d3Cyc1: Pt[] = [[3.577,10],[3.582,120],[3.587,212],[3.597,300],[3.607,347],[3.62,390],[3.634,414],[3.66,410],[3.689,404],[3.715,390],[3.743,364],[3.77,330],[3.797,296],[3.83,260],[3.865,229],[3.9,232],[3.932,246],[3.965,265],[3.993,280],[4.025,245],[4.054,212],[4.09,192],[4.122,178],[4.155,195],[4.183,229],[4.197,280],[4.21,306],[4.22,260],[4.23,212],[4.25,170],[4.27,138],[4.29,110],[4.308,84],
[4.295,40],[4.284,10],[4.265,-50],[4.243,-108],[4.22,-160],[4.203,-209],[4.185,-270],[4.169,-327],[4.16,-290],[4.148,-242],[4.13,-220],[4.108,-209],[4.08,-205],[4.054,-209],[4.02,-225],[3.99,-245],[3.959,-259],[3.93,-240],[3.905,-226],[3.87,-230],[3.838,-242],[3.8,-280],[3.77,-327],[3.74,-355],[3.709,-370],[3.685,-360],[3.662,-343],[3.635,-312],[3.607,-276],[3.575,-228],[3.54,-175],[3.505,-130],[3.472,-91],[3.43,-55],[3.391,-30]];
const d3Cyc20: Pt[] = [[3.58,10],[3.585,120],[3.59,212],[3.6,300],[3.61,350],[3.622,395],[3.636,420],[3.66,414],[3.689,406],[3.715,390],[3.743,365],[3.77,330],[3.797,296],[3.83,260],[3.865,229],[3.9,232],[3.932,246],[3.965,265],[3.993,280],[4.025,245],[4.054,212],[4.09,192],[4.122,178],[4.155,196],[4.183,230],[4.197,283],[4.21,310],[4.22,262],[4.23,213],[4.25,170],[4.27,138],[4.29,110],[4.308,84],
[4.295,38],[4.284,8],[4.265,-52],[4.243,-110],[4.22,-163],[4.203,-213],[4.185,-280],[4.169,-345],[4.16,-300],[4.148,-245],[4.13,-222],[4.108,-210],[4.08,-206],[4.054,-210],[4.02,-226],[3.99,-246],[3.959,-260],[3.93,-241],[3.905,-227],[3.87,-231],[3.838,-243],[3.8,-281],[3.77,-328],[3.74,-356],[3.709,-371],[3.685,-361],[3.662,-344],[3.635,-313],[3.607,-277],[3.575,-229],[3.54,-176],[3.505,-131],[3.472,-92],[3.43,-55],[3.391,-30]];

const d4Cyc1: Pt[] = [[3.588,0],[3.59,100],[3.595,202],[3.602,260],[3.609,286],[3.625,310],[3.642,337],[3.665,370],[3.69,397],[3.71,404],[3.724,404],[3.745,375],[3.764,337],[3.785,295],[3.805,253],[3.83,238],[3.859,229],[3.89,232],[3.927,236],[3.96,232],[3.994,219],[4.02,195],[4.049,175],[4.09,170],[4.13,168],[4.16,185],[4.184,219],[4.2,228],[4.218,229],[4.235,200],[4.252,168],[4.28,140],[4.306,118],
[4.292,80],[4.279,34],[4.265,0],[4.252,-34],[4.238,-101],[4.224,-140],[4.211,-168],[4.2,-200],[4.191,-219],[4.18,-190],[4.17,-168],[4.15,-158],[4.13,-152],[4.1,-160],[4.076,-168],[4.05,-175],[4.021,-185],[3.995,-210],[3.967,-236],[3.94,-232],[3.913,-229],[3.885,-232],[3.859,-236],[3.825,-250],[3.791,-269],[3.77,-295],[3.751,-320],[3.725,-332],[3.697,-337],[3.68,-335],[3.663,-330],[3.645,-305],[3.629,-269],[3.61,-235],[3.588,-202],[3.56,-160],[3.534,-118],[3.5,-80],[3.466,-50],[3.42,-35],[3.365,-27]];
const d4Cyc20: Pt[] = [[3.59,0],[3.593,110],[3.598,210],[3.606,270],[3.615,300],[3.63,330],[3.642,350],[3.665,375],[3.69,399],[3.71,406],[3.724,405],[3.745,377],[3.764,339],[3.785,297],[3.805,255],[3.83,240],[3.859,231],[3.89,234],[3.927,238],[3.96,234],[3.994,221],[4.02,197],[4.049,177],[4.09,172],[4.13,170],[4.16,187],[4.184,222],[4.2,231],[4.218,230],[4.235,202],[4.252,170],[4.28,142],[4.306,118],
[4.292,78],[4.279,32],[4.265,-2],[4.252,-38],[4.238,-105],[4.224,-148],[4.211,-180],[4.2,-215],[4.191,-240],[4.18,-205],[4.17,-175],[4.15,-162],[4.13,-155],[4.1,-162],[4.076,-170],[4.05,-177],[4.021,-187],[3.995,-212],[3.967,-238],[3.94,-234],[3.913,-231],[3.885,-234],[3.859,-238],[3.825,-252],[3.791,-271],[3.77,-297],[3.751,-322],[3.725,-336],[3.697,-342],[3.68,-338],[3.663,-332],[3.645,-307],[3.629,-271],[3.61,-237],[3.588,-204],[3.56,-162],[3.534,-120],[3.5,-81],[3.466,-51],[3.42,-35],[3.365,-27]];

// ---------- styling / layout ----------
const BLACK = '#111111';
const RED = '#e0231d';
const BLUE = '#2323c6';
const AXIS = '#6f6f6f';
const TICKTXT = '#2a2a2a';
const SANS = '"Liberation Sans", Arial, Helvetica, sans-serif';

const COLS = [65, 313, 560, 807, 1055];
const ROWS = [37, 235, 433, 631, 829];
const XMIN = 3.346;
const XMAX = 4.352;
const YMIN = -1000;
const YMAX = 1000;
const ML = 50, MR = 50, MT = 15, MB = 30;

type Curve = { pts: Pt[]; color: string; dash?: boolean };
type PanelDef = { col: number; row: number; sample?: string; tag?: string; curves: Curve[] };

const panels: PanelDef[] = [
  { col: 0, row: 0, sample: '100/0', tag: '(a1)', curves: [{ pts: a1Cyc1, color: BLACK }, { pts: a1Cyc1Dash, color: BLACK, dash: true }, { pts: a1Cyc20, color: RED }] },
  { col: 1, row: 0, sample: '95/5/0', tag: '(b1)', curves: [{ pts: b1Cyc1, color: BLACK }, { pts: b1Cyc20, color: RED }, { pts: b1Cyc50, color: BLUE }] },
  { col: 2, row: 0, sample: '90/5/5/0', tag: '(c1)', curves: [{ pts: c1Cyc1, color: BLACK }, { pts: c1Cyc20, color: RED }, { pts: c1Cyc50, color: BLUE }] },
  { col: 3, row: 0, sample: '88/9/3/0', tag: '(d1)', curves: [{ pts: d1Cyc1, color: BLACK }, { pts: d1Cyc20, color: RED }] },
  { col: 0, row: 1, sample: '99/1', tag: '(a2)', curves: [{ pts: a2Cyc1, color: BLACK }, { pts: a2Cyc20, color: RED }, { pts: a2Cyc50, color: BLUE }] },
  { col: 1, row: 1, sample: '94/5/1', tag: '(b2)', curves: [{ pts: b2Cyc1, color: BLACK }, { pts: b2Cyc20, color: RED }, { pts: b2Cyc50, color: BLUE }] },
  { col: 2, row: 1, sample: '90/5/4/1', tag: '(c2)', curves: [{ pts: c2Cyc1, color: BLACK }, { pts: c2Cyc1Stub, color: BLACK }, { pts: c2Cyc20, color: RED }, { pts: c2Cyc50, color: BLUE }] },
  { col: 3, row: 1, sample: '87/9/3/1', tag: '(d2)', curves: [{ pts: d2Cyc1, color: BLACK }, { pts: d2Cyc20, color: RED }] },
  { col: 0, row: 2, sample: '97.5/2.5', tag: '(a3)', curves: [{ pts: a3Cyc1, color: BLACK }, { pts: a3Cyc20, color: RED }, { pts: a3Cyc50, color: BLUE }] },
  { col: 1, row: 2, sample: '94/4/2', tag: '(b3)', curves: [{ pts: b3Cyc1, color: BLACK }, { pts: b3Cyc1DashA, color: BLACK, dash: true }, { pts: b3Cyc1DashB, color: BLACK, dash: true }, { pts: b3Cyc20, color: RED }, { pts: b3Cyc50, color: BLUE }] },
  { col: 2, row: 2, sample: '89/5/4/2', tag: '(c3)', curves: [{ pts: c3Cyc1, color: BLACK }, { pts: c3Cyc20, color: RED }, { pts: c3Cyc50, color: BLUE }] },
  { col: 3, row: 2, sample: '86/9/3/2', tag: '(d3)', curves: [{ pts: d3Cyc1, color: BLACK }, { pts: d3Cyc20, color: RED }] },
  { col: 0, row: 3, sample: '95/5', tag: '(a4)', curves: [{ pts: a4Cyc1, color: BLACK }, { pts: a4Cyc20, color: RED }, { pts: a4Cyc50, color: BLUE }] },
  { col: 1, row: 3, curves: [] },
  { col: 2, row: 3, curves: [] },
  { col: 3, row: 3, sample: '84/9/3/4', tag: '(d4)', curves: [{ pts: d4Cyc1, color: BLACK }, { pts: d4Cyc20, color: RED }] },
];

function fmtX(v: number): string {
  const k = Math.round(v * 10);
  const hit = xTickLabels.find((t) => Math.round(t * 10) === k);
  return hit === undefined ? '' : String(hit);
}
function fmtY(v: number): string {
  const r = Math.round(v);
  return yTickLabels.includes(r) ? String(r) : '';
}

function Panel({ def }: { def: PanelDef }) {
  const ref = useRef<HTMLCanvasElement | null>(null);
  const L = COLS[def.col], R = COLS[def.col + 1], T = ROWS[def.row], B = ROWS[def.row + 1];
  const cw = R - L + ML + MR;
  const ch = B - T + MT + MB;
  useEffect(() => {
    if (!ref.current) return;
    const showX = def.row === 3;
    const showYL = def.col === 0;
    const isRight = def.col === 3;
    const tickFont = { family: SANS, size: 14, weight: 'bold' as const };
    const topFrame = {
      id: 'topFrame' + def.col + def.row,
      afterDraw(chart: any) {
        if (def.row !== 0) return;
        const { ctx, chartArea } = chart;
        const xs = chart.scales.x;
        ctx.save();
        ctx.strokeStyle = AXIS;
        ctx.lineWidth = 1;
        ctx.beginPath();
        const y = Math.round(chartArea.top) + 0.5;
        ctx.moveTo(chartArea.left, y);
        ctx.lineTo(chartArea.right, y);
        xs.ticks.forEach((t: any) => {
          const px = Math.round(xs.getPixelForValue(t.value)) + 0.5;
          ctx.moveTo(px, y);
          ctx.lineTo(px, y + 4);
        });
        ctx.stroke();
        ctx.restore();
      },
    };
    const chart = new Chart(ref.current, {
      type: 'scatter',
      data: {
        datasets: def.curves.map((c) => ({
          data: c.pts.map(([x, y]) => ({ x, y })),
          borderColor: c.color,
          backgroundColor: c.color,
          borderWidth: 1.6,
          showLine: true,
          pointRadius: 0,
          pointHoverRadius: 0,
          borderDash: c.dash ? [4, 3] : [],
          tension: 0,
          fill: false,
        })),
      },
      options: {
        responsive: false,
        animation: false,
        events: [],
        layout: { padding: { top: MT, left: 0, right: 0, bottom: 0 } },
        plugins: { legend: { display: false }, tooltip: { enabled: false }, title: { display: false } },
        scales: {
          x: {
            type: 'linear',
            position: 'bottom',
            min: XMIN,
            max: XMAX,
            afterFit: (s: any) => { s.height = MB; },
            ticks: {
              stepSize: 0.1,
              includeBounds: false,
              autoSkip: false,
              maxRotation: 0,
              minRotation: 0,
              padding: 3,
              color: TICKTXT,
              font: tickFont,
              callback: (v: any) => (showX ? fmtX(Number(v)) : ''),
            },
            grid: { drawOnChartArea: false, drawTicks: true, tickLength: 4, color: AXIS, lineWidth: 1 },
            border: { display: true, color: AXIS, width: 1 },
          },
          y: {
            type: 'linear',
            position: 'left',
            min: YMIN,
            max: YMAX,
            afterFit: (s: any) => { s.width = ML; },
            ticks: {
              stepSize: 200,
              autoSkip: false,
              padding: 3,
              color: TICKTXT,
              font: tickFont,
              callback: (v: any) => (showYL ? fmtY(Number(v)) : ''),
            },
            grid: { drawOnChartArea: false, drawTicks: true, tickLength: 4, color: AXIS, lineWidth: 1 },
            border: { display: true, color: AXIS, width: 1 },
          },
          yR: {
            type: 'linear',
            position: 'right',
            min: YMIN,
            max: YMAX,
            afterFit: (s: any) => { s.width = MR; },
            ticks: {
              stepSize: 200,
              autoSkip: false,
              padding: 3,
              color: TICKTXT,
              font: tickFont,
              callback: (v: any) => (isRight ? fmtY(Number(v)) : ''),
            },
            grid: { display: isRight, drawOnChartArea: false, drawTicks: true, tickLength: 4, color: AXIS, lineWidth: 1 },
            border: { display: isRight, color: AXIS, width: 1 },
          },
        },
      } as any,
      plugins: [topFrame],
    });
    return () => chart.destroy();
  }, []);
  return (
    <canvas
      ref={ref}
      width={cw}
      height={ch}
      style={{ position: 'absolute', left: L - ML, top: T - MT, width: cw, height: ch }}
    />
  );
}

const abs = (extra: React.CSSProperties): React.CSSProperties => ({ position: 'absolute', whiteSpace: 'nowrap', ...extra });

export default function App() {
  const titleCenters = [190, 437, 683, 932];
  const legendColors = [BLACK, RED, BLUE];
  const legendYs = [688, 712, 735];
  return (
    <div style={{ position: 'absolute', left: 0, top: 0, width: 1111, height: 868, background: '#ffffff', overflow: 'hidden', fontFamily: SANS }}>
      {panels.map((p) => (
        <Panel key={`${p.col}-${p.row}`} def={p} />
      ))}
      {columnTitles.map((t, i) => (
        <div key={t} style={abs({ left: titleCenters[i] - 150, width: 300, top: 9, height: 24, lineHeight: '24px', textAlign: 'center', fontSize: 18, color: '#1a1a1a' })}>{t}</div>
      ))}
      <div style={abs({ left: 239, top: 20, lineHeight: '14px', fontSize: 10.5, color: '#1a1a1a' })}>{clipNote}</div>
      {panels.filter((p) => p.sample).map((p) => (
        <div key={'s' + p.sample} style={abs({ left: COLS[p.col] + 8, top: ROWS[p.row] + 9, lineHeight: '20px', fontSize: 17, color: '#222' })}>{p.sample}</div>
      ))}
      {panels.filter((p) => p.tag).map((p) => (
        <div key={'t' + p.tag} style={abs({ left: COLS[p.col] + 4, top: ROWS[p.row + 1] - 43, lineHeight: '40px', fontSize: 34, fontFamily: 'Lato, "Open Sans", sans-serif', color: '#111' })}>{p.tag}</div>
      ))}
      {legendLabels.map((l, i) => (
        <React.Fragment key={l}>
          <div style={abs({ left: 370, top: legendYs[i] - 1.5, width: 25, height: 3, background: legendColors[i] })} />
          <div style={abs({ left: 401, top: legendYs[i] - 10, lineHeight: '20px', fontSize: 17, color: '#222' })}>{l}</div>
        </React.Fragment>
      ))}
      <div style={abs({ left: 15 - 110, top: 436 - 11, width: 220, height: 22, lineHeight: '22px', textAlign: 'center', fontSize: 18, fontWeight: 'bold', color: '#1a1a1a', transform: 'rotate(-90deg)' })}>dQ/dV (mAh/g/V)</div>
      <div style={abs({ left: 1099 - 110, top: 446 - 11, width: 220, height: 22, lineHeight: '22px', textAlign: 'center', fontSize: 18, fontWeight: 'bold', color: '#1a1a1a', transform: 'rotate(90deg)' })}>dQ/dV (mAh/g/V)</div>
      <div style={abs({ left: 569 - 150, top: 848, width: 300, height: 20, lineHeight: '20px', textAlign: 'center', fontSize: 16, fontWeight: 'bold', color: '#1a1a1a' })}>Voltage (V vs. Li)</div>
    </div>
  );
}
